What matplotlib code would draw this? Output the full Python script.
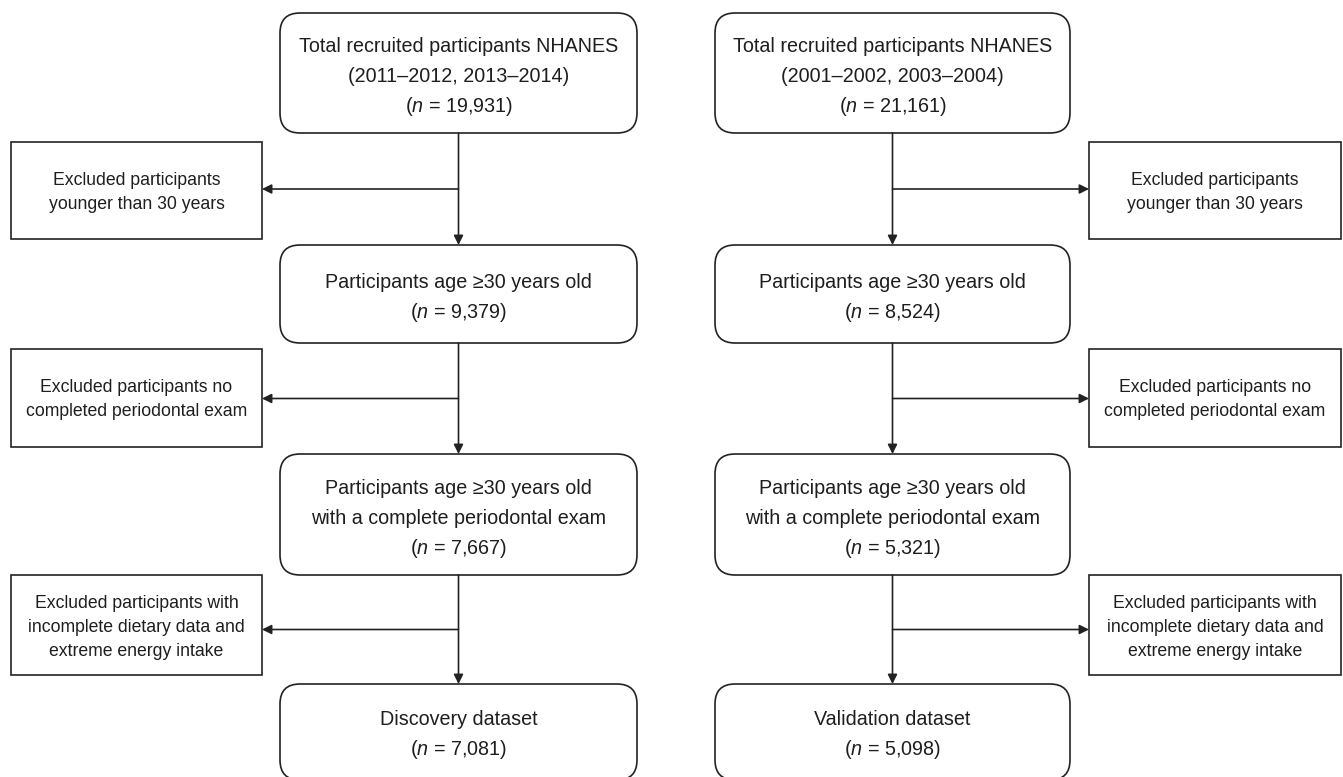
import matplotlib
matplotlib.use("Agg")
import matplotlib.pyplot as plt
from matplotlib.patches import FancyBboxPatch, Rectangle

plt.rcParams['font.family'] = ['Liberation Sans', 'DejaVu Sans']
plt.rcParams['mathtext.fontset'] = 'custom'
plt.rcParams['mathtext.it'] = 'Liberation Sans:italic'
plt.rcParams['mathtext.rm'] = 'Liberation Sans'

# ---- data (text content) ----
left_labels = ["Total recruited participants NHANES\n(2011–2012, 2013–2014)",
               "Participants age ≥30 years old",
               "Participants age ≥30 years old\nwith a complete periodontal exam",
               "Discovery dataset"]
left_n = ["19,931", "9,379", "7,667", "7,081"]
right_labels = ["Total recruited participants NHANES\n(2001–2002, 2003–2004)",
                "Participants age ≥30 years old",
                "Participants age ≥30 years old\nwith a complete periodontal exam",
                "Validation dataset"]
right_n = ["21,161", "8,524", "5,321", "5,098"]
excl_labels = ["Excluded participants\nyounger than 30 years",
               "Excluded participants no\ncompleted periodontal exam",
               "Excluded participants with\nincomplete dietary data and\nextreme energy intake"]

# ---- layout (pixel coordinates) ----
W, H = 1343, 777
main_x = {"left": (280, 637), "right": (715, 1070)}
excl_x = {"left": (11, 262), "right": (1089, 1341)}
main_y = [(13, 133), (245, 343), (454, 575), (684, 780)]
excl_y = [(142, 239), (349, 447), (575, 675)]

EC = "#222222"
TC = "#1e1e1e"
LW = 1.2

fig = plt.figure(figsize=(W / 100, H / 100), dpi=100)
ax = fig.add_axes([0, 0, 1, 1])
ax.set_xlim(0, W)
ax.set_ylim(H, 0)
ax.axis("off")


def lines_text(cx, cy, lines, spacing, offset, fs):
    k = len(lines)
    for i, ln in enumerate(lines):
        y = cy + offset + (i - (k - 1) / 2) * spacing
        ax.text(cx, y, ln, ha="center", va="baseline", fontsize=fs, color=TC)


def main_box(x0, x1, y0, y1, label, n):
    p = FancyBboxPatch((x0, y0), x1 - x0, y1 - y0,
                       boxstyle="round,pad=0,rounding_size=20",
                       fc="white", ec=EC, lw=LW)
    ax.add_patch(p)
    lines = label.split("\n") + ["($\\it{n}$ = " + n + ")"]
    cy = (y0 + min(y1, H)) / 2
    lines_text((x0 + x1) / 2, cy, lines, 30, 9.5, 14.2)


def excl_box(x0, x1, y0, y1, label):
    ax.add_patch(Rectangle((x0, y0), x1 - x0, y1 - y0, fc="white", ec=EC, lw=LW))
    lines_text((x0 + x1) / 2, (y0 + y1) / 2, label.split("\n"), 24, 6.5, 12.7)


def arrow(x0, y0, x1, y1):
    ax.annotate("", xy=(x1, y1), xytext=(x0, y0),
                arrowprops=dict(arrowstyle="-|>", color=EC, lw=LW,
                                mutation_scale=14, shrinkA=0, shrinkB=0))


for side, labels, ns in (("left", left_labels, left_n), ("right", right_labels, right_n)):
    mx0, mx1 = main_x[side]
    cx = (mx0 + mx1) / 2
    ex0, ex1 = excl_x[side]
    for i, (lab, n) in enumerate(zip(labels, ns)):
        y0, y1 = main_y[i]
        main_box(mx0, mx1, y0, y1, lab, n)
    for i, lab in enumerate(excl_labels):
        ey0, ey1 = excl_y[i]
        excl_box(ex0, ex1, ey0, ey1, lab)
        top = main_y[i][1]
        bot = main_y[i + 1][0]
        ay = (top + bot) / 2
        arrow(cx, top, cx, bot)
        if side == "left":
            arrow(cx, ay, ex1, ay)
        else:
            arrow(cx, ay, ex0, ay)

fig.savefig("out.png", dpi=100, facecolor="white")
